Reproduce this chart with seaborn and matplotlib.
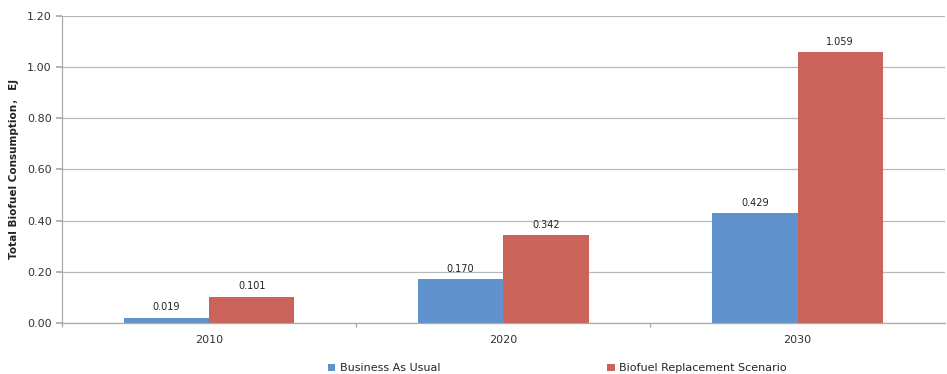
import pandas as pd
import seaborn as sns
import matplotlib.pyplot as plt
from matplotlib.ticker import FixedLocator

years = ['2010', '2020', '2030']
scenarios = ['Business As Usual', 'Biofuel Replacement Scenario']
bau = [0.019, 0.170, 0.429]
brs = [0.101, 0.342, 1.059]
colours = ['#6093CD', '#CA635A']

data = pd.DataFrame({
    'year': years * 2,
    'scenario': [scenarios[0]] * 3 + [scenarios[1]] * 3,
    'value': bau + brs,
})

sns.set_theme(style='white')
plt.rcParams['font.family'] = ['DejaVu Sans', 'Noto Sans CJK SC']

fig = plt.figure(figsize=(9.47, 3.74), dpi=100)
ax = fig.add_axes([0.0655, 0.137, 0.932, 0.82])

sns.barplot(data=data, x='year', y='value', hue='scenario', palette=colours,
            width=0.58, saturation=1, linewidth=0, ax=ax, legend=True)

for c in ax.containers:
    ax.bar_label(c, fmt='%.3f', padding=4, fontsize=7, color='#222222')

ax.set_ylim(0, 1.2)
ax.set_yticks([0, 0.2, 0.4, 0.6, 0.8, 1.0, 1.2])
ax.set_yticklabels([f'{v:.2f}' for v in ax.get_yticks()], fontsize=8, color='#333333')
ax.set_xlim(-0.5, 2.5)
ax.tick_params(axis='x', length=0, labelsize=8, labelcolor='#333333', pad=9)
ax.xaxis.set_minor_locator(FixedLocator([-0.5, 0.5, 1.5]))
ax.tick_params(axis='x', which='minor', length=3, color='#aaaaaa', direction='out', bottom=True)
ax.tick_params(axis='y', length=4, color='#aaaaaa', direction='out', left=True)
ax.yaxis.grid(True, color='#b8b8b8', linewidth=0.9)
ax.set_axisbelow(True)
for s in ['top', 'right']:
    ax.spines[s].set_visible(False)
for s in ['left', 'bottom']:
    ax.spines[s].set_color('#aaaaaa')
    ax.spines[s].set_linewidth(0.9)

ax.set_xlabel('')
ax.set_ylabel('Total Biofuel Consumption\uff0c EJ', fontsize=7.5, fontweight='bold',
              color='#222222', labelpad=6)

ax.legend(loc='upper center', bbox_to_anchor=(0.561, -0.1), ncol=2, frameon=False,
          fontsize=8, handlelength=0.7, handleheight=0.7, columnspacing=15,
          handletextpad=0.4)

plt.savefig('out.png', dpi=100)
